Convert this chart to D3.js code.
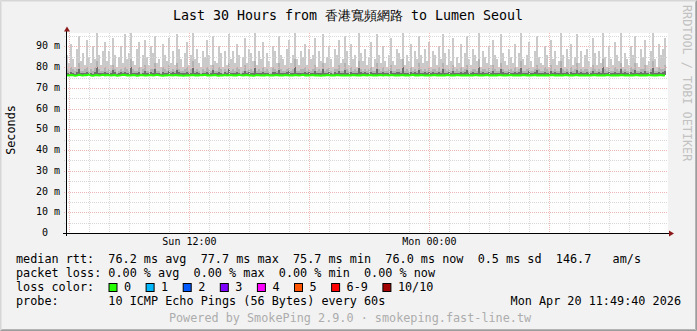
<!DOCTYPE html>
<html><head><meta charset="utf-8">
<script src="https://cdn.jsdelivr.net/npm/d3@7"></script>
<style>
body{margin:0;background:#f2f2f2}
svg{display:block}
text{font-family:"DejaVu Sans Mono",monospace;white-space:pre}
</style>
</head><body>
<svg id="c" width="697" height="331"></svg>
<script>
// ---------- data ----------
const titleText = "Last 30 Hours from 香港寬頻網路 to Lumen Seoul";
const startTime = Date.UTC(2026, 3, 19, 5, 49, 40);
const endTime = Date.UTC(2026, 3, 20, 11, 49, 40);
const sampleMinutes = 6;
const yTickValues = [0, 10, 20, 30, 40, 50, 60, 70, 80, 90];          // ms
const yTickLabels = ["0  ", "10 m", "20 m", "30 m", "40 m", "50 m", "60 m", "70 m", "80 m", "90 m"];
const yMinorValues = [5, 15, 25, 35, 45, 55, 65, 75, 85, 95];
// median rtt (ms) per 6-minute sample
const rttMedian = [
76.1,76.0,76.2,76.1,75.9,76.0,76.3,76.1,76.0,76.2,76.1,76.4,76.0,75.9,76.1,76.2,76.0,76.1,76.3,76.0,
76.2,76.1,76.0,76.1,76.2,75.9,76.0,76.1,76.3,76.2,76.0,76.1,76.0,76.2,76.1,75.9,76.0,76.2,76.1,76.0,
76.0,76.1,76.2,76.0,76.1,76.3,76.1,76.0,75.9,76.1,76.0,76.2,76.1,76.0,76.2,76.1,76.0,76.1,75.9,76.0,
76.1,76.0,76.1,76.2,76.0,76.1,76.0,76.2,76.1,76.3,76.0,76.1,76.0,76.1,76.2,76.0,75.9,76.1,76.0,76.2,
76.0,76.1,76.2,76.0,76.1,76.0,76.3,76.1,76.0,76.1,76.2,76.0,76.1,75.9,76.0,76.2,76.1,76.0,76.1,76.0,
76.2,76.0,76.1,76.0,76.1,76.2,76.0,76.1,76.0,76.2,76.1,76.0,76.1,76.0,76.2,76.1,76.0,76.1,76.3,76.0,
76.1,76.0,76.1,76.2,76.0,76.1,76.0,75.9,76.1,76.0,76.2,76.1,76.0,76.1,76.0,76.2,76.1,76.0,76.1,76.0,
76.0,76.1,76.0,76.2,76.1,76.0,76.1,76.0,76.2,76.1,76.0,76.1,76.2,76.0,76.1,76.0,76.1,76.2,76.0,76.1,
76.1,76.0,76.2,76.1,76.0,76.1,76.0,76.1,76.2,76.0,76.1,76.0,76.1,76.3,76.0,76.1,76.0,76.2,76.1,76.0,
76.0,76.1,76.0,76.1,76.2,76.0,76.1,76.0,76.1,76.0,76.2,76.1,76.0,76.1,76.0,76.2,76.1,76.0,76.1,76.0,
76.1,76.0,76.1,76.0,76.2,76.1,76.0,76.1,76.0,76.1,76.2,76.0,76.1,76.0,76.1,76.0,76.2,76.1,76.0,76.1,
76.0,76.1,76.2,76.0,76.1,76.0,76.1,76.0,76.2,76.1,76.0,76.1,76.0,76.1,76.2,76.0,76.1,76.0,76.1,76.0,
76.1,76.0,76.1,76.2,76.0,76.1,76.0,76.1,76.0,76.2,76.1,76.0,76.1,76.0,76.1,76.2,76.0,76.1,76.0,76.1,
76.0,76.1,76.0,76.1,76.2,76.0,76.1,76.0,76.1,76.0,76.2,76.1,76.0,76.1,76.0,76.1,76.0,76.2,76.1,76.0,
76.1,76.0,76.1,76.0,76.1,76.2,76.0,76.1,76.0,76.1,76.0,76.2,76.1,76.0,76.1,76.0,76.1,76.2,76.0,76.1];
// slowest ping per sample (ms) - light smoke top
const rttMax = [
86,82,91,84,80,89,95,83,87,81,93,85,82,90,84,97,86,81,88,92,
83,88,81,94,86,80,85,90,82,96,84,87,98,83,81,89,92,80,86,93,
85,81,90,87,95,82,84,80,91,86,83,94,82,88,81,96,89,84,80,87,
92,81,86,98,84,89,82,80,88,85,93,86,81,95,83,82,90,87,80,88,
81,96,84,88,82,91,86,80,85,94,82,89,87,83,97,81,88,84,92,80,
87,83,80,90,88,82,95,86,84,81,89,93,82,86,98,84,81,88,85,91,
81,89,84,86,94,80,88,83,96,82,85,90,84,80,89,86,93,82,84,95,
88,81,91,84,86,80,97,87,83,89,81,85,92,80,84,96,86,82,90,83,
80,86,94,83,81,89,87,84,98,81,86,83,91,80,88,84,95,86,82,89,
83,92,80,88,86,81,90,84,96,87,81,89,83,94,80,85,82,91,80,87,
95,84,81,89,86,83,98,80,88,85,82,90,81,93,86,84,80,96,87,83,
81,89,85,82,91,80,87,97,84,81,86,92,83,80,88,95,85,82,81,90,
86,80,93,84,88,81,83,98,86,80,89,84,91,81,85,96,82,88,80,86,
89,83,80,94,87,81,88,82,98,85,80,90,84,81,92,86,83,97,80,87,
84,81,90,86,95,82,80,89,85,93,81,83,88,98,84,80,91,86,89,94];
// upper-middle pings per sample (ms) - mid smoke top
const rttUpper = [
79,78,80,79,78,79,82,78,78,79,80,78,79,78,80,83,79,78,78,80,
78,79,78,81,79,77,78,79,78,80,79,78,84,79,78,78,80,77,79,81,
78,78,79,79,82,78,78,77,80,79,78,81,78,79,78,82,79,78,78,79,
80,78,79,83,78,79,78,77,79,78,80,79,78,81,78,78,80,79,77,79,
78,82,78,79,78,80,79,77,78,81,78,79,79,78,83,78,79,78,80,78,
79,78,77,80,79,78,82,79,78,78,79,80,78,79,84,78,78,79,79,80,
78,79,78,79,81,78,79,78,82,78,79,80,78,77,79,79,81,78,78,82,
79,78,80,78,79,78,83,79,78,79,78,79,80,78,78,82,79,78,80,78,
78,79,81,78,78,79,79,78,84,78,79,78,80,78,79,78,82,79,78,79,
78,80,78,79,79,78,80,78,82,79,78,79,78,81,78,79,78,80,78,79,
81,78,78,79,79,78,84,78,79,79,78,80,78,81,79,78,78,82,79,78,
78,79,79,78,80,78,79,83,78,78,79,80,78,78,79,81,79,78,78,80,
79,78,81,78,79,78,78,83,79,78,79,78,80,78,79,82,78,79,78,79,
79,78,78,81,79,78,79,78,84,79,78,80,78,78,80,79,78,82,78,79,
78,78,80,79,82,78,78,79,79,81,78,78,79,83,78,78,80,79,79,81];
// inner pings per sample (ms) - dark smoke top
const rttInner = [
77.4,77.0,77.8,77.1,76.9,77.5,78.9,77.2,77.0,77.4,77.9,77.0,77.3,76.9,77.6,80.1,77.4,77.0,77.1,77.9,
77.0,77.4,77.1,78.6,77.5,76.8,77.1,77.5,77.0,77.8,77.2,77.0,80.2,77.4,77.0,77.1,77.8,76.8,77.4,78.4,
77.1,77.0,77.5,77.4,79.1,77.0,77.2,76.8,77.9,77.4,77.0,78.2,77.1,77.5,77.0,78.8,77.5,77.1,77.0,77.4,
77.8,77.0,77.4,79.5,77.1,77.5,77.0,76.8,77.4,77.1,77.9,77.4,77.0,78.5,77.1,77.0,77.8,77.4,76.8,77.5,
77.0,78.9,77.1,77.4,77.0,77.8,77.4,76.8,77.1,78.2,77.0,77.5,77.4,77.1,79.4,77.0,77.4,77.1,77.8,77.0,
77.4,77.1,76.8,77.8,77.5,77.0,78.8,77.4,77.1,77.0,77.5,78.0,77.0,77.4,80.3,77.1,77.0,77.4,77.4,77.8,
77.0,77.5,77.1,77.4,78.2,77.0,77.4,77.1,79.2,77.0,77.4,77.8,77.1,76.8,77.5,77.4,78.4,77.0,77.1,78.6,
77.4,77.0,77.8,77.1,77.4,77.0,79.6,77.5,77.1,77.5,77.0,77.4,77.9,77.0,77.1,78.9,77.4,77.0,77.8,77.1,
77.0,77.4,78.4,77.1,77.0,77.5,77.5,77.1,80.0,77.0,77.4,77.1,77.8,77.0,77.5,77.1,78.6,77.4,77.0,77.5,
77.1,77.9,77.0,77.5,77.4,77.0,77.8,77.1,79.1,77.4,77.0,77.5,77.1,78.2,77.0,77.4,77.1,77.8,77.0,77.5,
78.5,77.1,77.0,77.5,77.4,77.1,80.1,77.0,77.5,77.4,77.1,77.8,77.0,78.1,77.4,77.1,77.0,78.9,77.5,77.1,
77.0,77.5,77.4,77.1,77.8,77.0,77.5,79.4,77.1,77.0,77.4,78.0,77.1,77.0,77.5,78.5,77.4,77.1,77.0,77.8,
77.4,77.0,78.1,77.1,77.5,77.0,77.1,79.6,77.4,77.0,77.5,77.1,77.8,77.0,77.4,78.8,77.1,77.5,77.0,77.4,
77.5,77.1,77.0,78.2,77.4,77.0,77.5,77.1,80.2,77.4,77.0,77.8,77.1,77.0,77.9,77.4,77.1,79.0,77.0,77.5,
77.1,77.0,77.8,77.4,78.8,77.1,77.0,77.5,77.4,78.1,77.0,77.1,77.5,79.8,77.1,77.0,77.8,77.4,77.5,78.2];
const legendRows = [
  "median rtt:  76.2 ms avg  77.7 ms max  75.7 ms min  76.0 ms now  0.5 ms sd  146.7   am/s",
  "packet loss: 0.00 % avg  0.00 % max  0.00 % min  0.00 % now"
];
const lossLabels = ["0", "1", "2", "3", "4", "5", "6-9", "10/10"];
const lossColors = ["#26ff00", "#00b8ff", "#0059ff", "#7e00ff", "#ff00ff", "#ff5500", "#ff0000", "#a10000"];
const probeText = "probe:       10 ICMP Echo Pings (56 Bytes) every 60s";
const dateText = "Mon Apr 20 11:49:40 2026";
const poweredText = "Powered by SmokePing 2.9.0 · smokeping.fast-line.tw";
const sideText = "RRDTOOL / TOBI OETIKER";

// ---------- layout ----------
const W = 697, H = 331;
const L = 66, R = 666, T = 33, B = 233;
const svg = d3.select("#c");

svg.append("rect").attr("width", W).attr("height", H).attr("fill", "#f2f2f2");
// 3D frame
svg.append("path").attr("d", `M0.5,${H-0.5}V0.5H${W-0.5}`).attr("fill","none").attr("stroke","#d6d6d6");
svg.append("path").attr("d", `M1.5,${H-1.5}V1.5H${W-1.5}`).attr("fill","none").attr("stroke","#e4e4e4");
svg.append("path").attr("d", `M0.5,${H-0.5}H${W-0.5}V0.5`).attr("fill","none").attr("stroke","#9c9c9c");
svg.append("path").attr("d", `M1.5,${H-1.5}H${W-1.5}V1.5`).attr("fill","none").attr("stroke","#b4b4b4");

const x = d3.scaleUtc().domain([new Date(startTime), new Date(endTime)]).range([L, R]);
const y = d3.scaleLinear().domain([0, 96.5]).range([B, T]);

// plot background
svg.append("rect").attr("x", L).attr("y", T).attr("width", R - L + 2).attr("height", B - T).attr("fill", "#ffffff");
svg.append("clipPath").attr("id","pc").append("rect").attr("x", L).attr("y", T).attr("width", R - L).attr("height", B - T);

// samples
const samples = rttMedian.map((m, i) => ({
  t0: new Date(startTime + i * sampleMinutes * 60000),
  t1: new Date(startTime + (i + 1) * sampleMinutes * 60000),
  med: m, max: rttMax[i], up: rttUpper[i], inn: rttInner[i]
}));

const smoke = svg.append("g").attr("clip-path","url(#pc)").attr("shape-rendering","crispEdges");
const bands = [["max", "#cacaca"], ["up", "#b2b2b2"], ["inn", "#6e6e6e"]];
bands.forEach(([k, col]) => {
  smoke.selectAll(null).data(samples).join("rect")
    .attr("x", d => x(d.t0))
    .attr("width", d => x(d.t1) - x(d.t0))
    .attr("y", d => y(d[k]))
    .attr("height", d => Math.max(0, y(d.med) - y(d[k])))
    .attr("fill", col);
});

// grid
const grid = svg.append("g").attr("shape-rendering","crispEdges");
yMinorValues.forEach(v => {
  grid.append("line").attr("x1", L - 2).attr("x2", R + 2).attr("y1", Math.round(y(v)) + 0.5).attr("y2", Math.round(y(v)) + 0.5)
    .attr("stroke", "#d8d8d8").attr("stroke-dasharray", "1,1");
});
const hours = x.ticks(d3.utcHour.every(1));
hours.forEach(h => {
  const major = h.getUTCHours() % 6 === 0;
  const px = Math.round(x(h)) + 0.5;
  grid.append("line").attr("x1", px).attr("x2", px).attr("y1", T).attr("y2", B + 2)
    .attr("stroke", major ? "#efb6b6" : "#d8d8d8").attr("stroke-dasharray", "1,1");
});
yTickValues.filter(v => v > 0).forEach(v => {
  grid.append("line").attr("x1", L - 2).attr("x2", R + 2).attr("y1", Math.round(y(v)) + 0.5).attr("y2", Math.round(y(v)) + 0.5)
    .attr("stroke", "#efb6b6").attr("stroke-dasharray", "1,1");
});

// median line
const line = d3.line()
  .x(d => (x(d.t0) + x(d.t1)) / 2)
  .y(d => y(d.med));
svg.append("path").datum(samples).attr("clip-path","url(#pc)")
  .attr("d", line).attr("fill", "none").attr("stroke", lossColors[0]).attr("stroke-width", 2);

// axes
svg.append("line").attr("x1", L - 3).attr("x2", R + 3).attr("y1", B + 0.5).attr("y2", B + 0.5).attr("stroke", "#000").attr("shape-rendering","crispEdges");
svg.append("line").attr("x1", L + 0.5).attr("x2", L + 0.5).attr("y1", T - 3).attr("y2", B + 3).attr("stroke", "#000").attr("shape-rendering","crispEdges");
svg.append("path").attr("d", `M${L+1},26.5L${L-2},31.5H${L+4}Z`).attr("fill", "#8b1a1a");
svg.append("path").attr("d", `M${R+8},${B+0.5}L${R+3},${B-2.5}V${B+3.5}Z`).attr("fill", "#8b1a1a");

// y tick labels
svg.append("g").selectAll("text").data(yTickValues).join("text")
  .attr("x", 60).attr("y", d => y(d) + 3)
  .attr("text-anchor", "end").attr("font-size", 10).attr("fill", "#000")
  .text((d, i) => yTickLabels[i]);

// x labels
const fmt = d3.utcFormat("%a %H:%M");
svg.append("g").selectAll("text").data(hours.filter(h => h.getUTCHours() % 12 === 0)).join("text")
  .attr("x", d => x(d)).attr("y", 245)
  .attr("text-anchor", "middle").attr("font-size", 10).attr("fill", "#000")
  .text(d => fmt(d));

// title
svg.append("text").attr("x", 348).attr("y", 19.5).attr("text-anchor", "middle")
  .attr("font-size", 13.3).attr("fill", "#000").text(titleText);

// y axis title
svg.append("text").attr("transform", "translate(15,130) rotate(-90)").attr("text-anchor", "middle")
  .attr("font-size", 11.8).attr("fill", "#000").text("Seconds");

// side text
svg.append("text").attr("transform", "translate(683,5) rotate(90)").attr("text-anchor", "start")
  .attr("font-size", 11.8).attr("fill", "#c2c2c2").text(sideText);

// legend
const fs = 11.8;
legendRows.forEach((r, i) => {
  svg.append("text").attr("x", 16).attr("y", 263 + i * 14).attr("font-size", fs).attr("fill", "#000").text(r);
});
svg.append("text").attr("x", 16).attr("y", 291).attr("font-size", fs).attr("fill", "#000").text("loss color:");
const cw = 7.1;
let lx = 108.5;
lossLabels.forEach((lab, i) => {
  svg.append("rect").attr("x", lx + 0.5).attr("y", 283.5).attr("width", 8).attr("height", 8)
    .attr("fill", lossColors[i]).attr("stroke", "#000").attr("stroke-width", 1);
  svg.append("text").attr("x", lx + 15.5).attr("y", 291).attr("font-size", fs).attr("fill", "#000").text(lab);
  lx += 15.5 + lab.length * cw + 14.5;
});
svg.append("text").attr("x", 16).attr("y", 305).attr("font-size", fs).attr("fill", "#000").text(probeText);
svg.append("text").attr("x", 681).attr("y", 305).attr("text-anchor", "end").attr("font-size", fs).attr("fill", "#000").text(dateText);
svg.append("text").attr("x", 350).attr("y", 321.5).attr("text-anchor", "middle").attr("font-size", fs).attr("fill", "#adadad").text(poweredText);
</script>
</body></html>
